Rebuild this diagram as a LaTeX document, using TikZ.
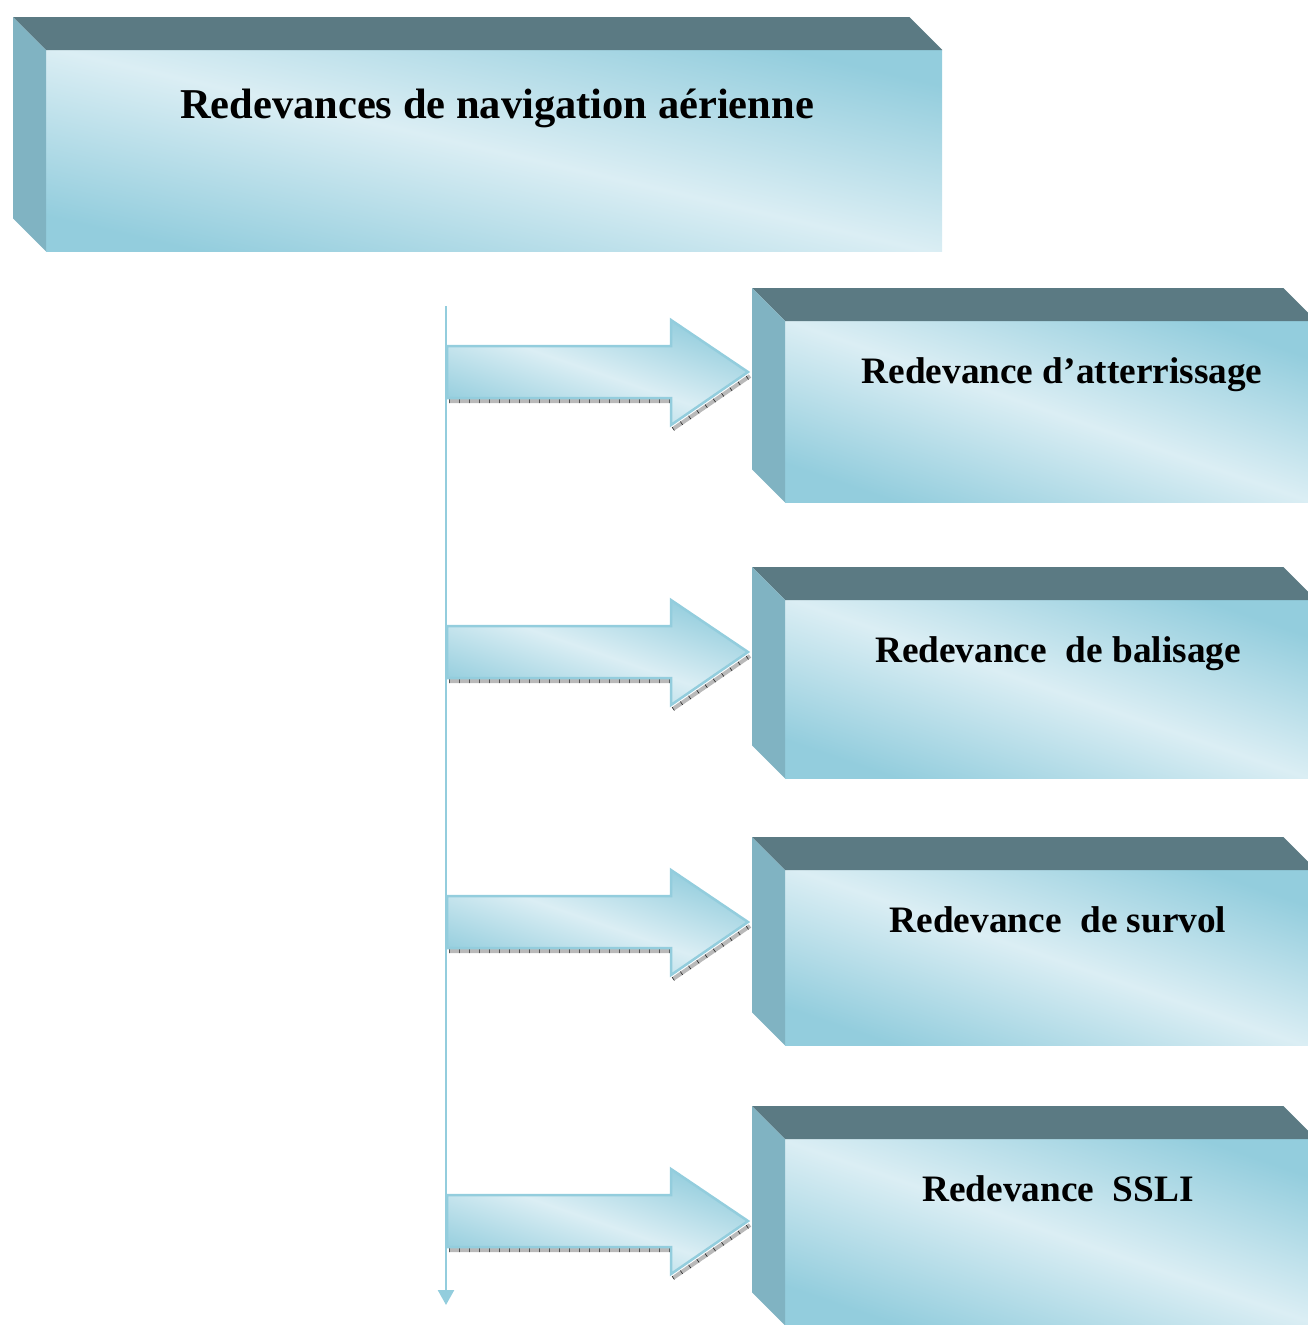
\documentclass[tikz,border=0pt]{standalone}
\usepackage{fontspec}
\setmainfont{Liberation Serif}
\usetikzlibrary{arrows.meta}
\definecolor{RNdark}{HTML}{5B7A83}
\definecolor{RNside}{HTML}{80B3C2}
\definecolor{RNdeep}{HTML}{93CDDD}
\definecolor{RNpale}{HTML}{DBEEF4}
\tikzset{RNfront/.style={rectangle,inner sep=0pt,anchor=north west,top color=RNdeep,bottom color=RNdeep,middle color=RNpale,shading angle=#1},
         RNfront/.default=-19,
         RNlab/.style={font=\fontsize{37.3}{40}\bfseries\selectfont,anchor=base,inner sep=0pt},
         RNarr/.style={draw=RNdeep,line width=2.5pt,top color=RNdeep,bottom color=RNdeep,middle color=RNpale,shading angle=-19},
         RNshad/.style={draw=gray!55,line width=4pt},
         RNtick/.style={draw=gray!25!black,line width=4pt,dash pattern=on 0.6pt off 9.4pt}}
\begin{document}
\begin{tikzpicture}[x=1pt,y=-1pt]
  \useasboundingbox (0,0) rectangle (1308,1325);
  % top block
  \node[RNfront=-13,minimum width=896pt,minimum height=201pt] (head) at (46,50) {};
  \fill[RNdark] (head.north west) -- ++(-33,-33) -- ([shift={(-33,-33)}]head.north east) -- (head.north east) -- cycle;
  \fill[RNside] (head.north west) -- ++(-33,-33) -- ([shift={(-33,-33)}]head.south west) -- (head.south west) -- cycle;
  \node[RNlab,font=\fontsize{42.5}{46}\bfseries\selectfont] (headlab) at (497,118) {Redevances de navigation aérienne};
  % fee blocks
  \foreach \n/\t/\h/\x/\l in {1/321/181/1062/{Redevance d'atterrissage},2/600/178/1058/{Redevance\ \ de balisage},
                             3/870/175/1058/{Redevance\ \ de survol},4/1139/186/1058/{Redevance\ \ SSLI}}
    {\node[RNfront,minimum width=531pt,minimum height=\h pt] (fee\n) at (785,\t) {};
     \fill[RNdark] (fee\n.north west) -- ++(-33,-33) -- ([shift={(-33,-33)}]fee\n.north east) -- (fee\n.north east) -- cycle;
     \fill[RNside] (fee\n.north west) -- ++(-33,-33) -- ([shift={(-33,-33)}]fee\n.south west) -- (fee\n.south west) -- cycle;
     \node[RNlab] (lab\n) at (\x,\t+62) {\l};}
  % spine and block arrows
  \coordinate (spinetop) at (446,306);
  \coordinate (spineend) at (446,1305);
  \draw[RNdeep,line width=2.5pt,-{Triangle[width=16pt,length=15pt]}] (spinetop) -- (spineend);
  \foreach \c in {372,652,922,1221}
    {\draw[RNshad] (449,\c+29) -- (671,\c+29) (673,\c+57) -- (750,\c+4);
     \draw[RNtick] (449,\c+29) -- (671,\c+29) (673,\c+57) -- (750,\c+4);
     \draw[RNarr] (447,\c-26) -- (671,\c-26) -- (671,\c-52) -- (748,\c) -- (671,\c+53) -- (671,\c+26) -- (447,\c+26) -- cycle;}
\end{tikzpicture}
\end{document}
